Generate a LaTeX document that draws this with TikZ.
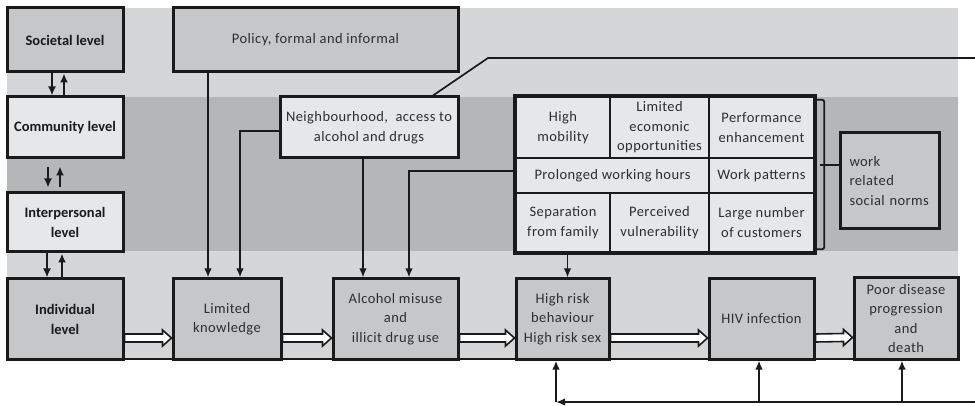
\documentclass[tikz,border=0pt]{standalone}
\usepackage{fontspec}
\setmainfont{Carlito}[LetterSpace=3]
\newfontfamily\lvlfont{Carlito}
\usetikzlibrary{arrows.meta,calc}
\definecolor{bandL}{HTML}{D5D6D8}
\definecolor{bandD}{HTML}{B5B6B8}
\definecolor{boxM}{HTML}{C6C7C9}
\definecolor{boxL}{HTML}{E6E7E8}
\definecolor{ink}{HTML}{1A1A1A}
\definecolor{txt}{HTML}{2E2E2E}
\newcommand\hollowarrow[2]{%
  \draw[harrow] ($(#1.east)+(0,15)$) -- ($(#2.west)+(-9,15)$) -- ($(#2.west)+(-9,11)$)
    -- ($(#2.west)+(0,19)$) -- ($(#2.west)+(-9,27)$) -- ($(#2.west)+(-9,23)$)
    -- ($(#1.east)+(0,23)$) -- cycle;}
\begin{document}
\begin{tikzpicture}[x=1pt,y=-1pt,
  box/.style={draw=ink, line width=3pt, inner sep=0pt, align=center, text=txt,
    font=\fontsize{14.5}{19.5}\selectfont},
  boxm/.style={box, fill=boxM},
  boxl/.style={box, fill=boxL},
  cell/.style={boxl, line width=2.4pt},
  lvl/.style={font=\lvlfont\bfseries\fontsize{14.5}{20}\selectfont, text=ink},
  conn/.style={draw=ink, line width=1.7pt, -{Latex[length=9pt,width=7.5pt]}},
  lvla/.style={draw=ink, line width=2.2pt, -{Latex[length=9pt,width=8pt]}},
  harrow/.style={draw=ink, fill=white, line width=1.6pt, line join=miter},
  plain/.style={draw=ink, line width=1.7pt},
]
\useasboundingbox (0,0) rectangle (975,406);
% bands
\fill[bandL] (7,8) rectangle (958,97);
\fill[bandD] (7,97) rectangle (958,251);
\fill[bandL] (7,251) rectangle (958,359);
\draw[ink, line width=1.6pt] (7,359) -- (958,359);

% level boxes
\node[boxm, lvl, minimum width=116, minimum height=64] (soc) at (65,40) {Societal level};
\node[boxl, lvl, minimum width=116, minimum height=61] (com) at (65,127.5) {Community level};
\node[boxl, lvl, minimum width=116, minimum height=59] (inter) at (65,222.5) {Interpersonal\\level};
\node[boxm, lvl, minimum width=116, minimum height=80] (ind) at (65,319) {Individual\\level};

% top boxes
\node[boxm, minimum width=285, minimum height=64] (pol) at (315.5,40) {Policy, formal and informal};
\node[boxl, minimum width=178, minimum height=61] (nei) at (369,127.5) {Neighbourhood,\ \ access to\\alcohol and drugs};

% grid
\node[cell, minimum width=94, minimum height=61] (c11) at (563,127.5) {High\\mobility};
\node[cell, minimum width=99, minimum height=61] (c12) at (659.5,127.5) {Limited\\ecomonic\\opportunities};
\node[cell, minimum width=105, minimum height=61] (c13) at (761.5,127.5) {Performance\\enhancement};
\node[cell, minimum width=193, minimum height=35] (c2a) at (612.5,175.5) {Prolonged working hours};
\node[cell, minimum width=105, minimum height=35] (c2b) at (761.5,175.5) {Work patterns};
\node[cell, minimum width=94, minimum height=59] (c31) at (563,222.5) {Separation\\from family};
\node[cell, minimum width=99, minimum height=59] (c32) at (659.5,222.5) {Perceived\\vulnerability};
\node[cell, minimum width=105, minimum height=59] (c33) at (761.5,222.5) {Large number\\of customers};
\draw[ink, line width=3pt] (c11.north west) rectangle (c33.south east);

% work norms
\node[boxm, minimum width=99, minimum height=96, text width=80, align=left] (work) at (889.5,181) {work\\related\\social norms};

% bottom row
\node[boxm, minimum width=108, minimum height=80] (know) at (227,319) {Limited\\knowledge};
\node[boxm, minimum width=125, minimum height=80] (alc) at (395.5,319) {Alcohol misuse\\and\\illicit drug use};
\node[boxm, minimum width=93, minimum height=80] (risk) at (562.5,319) {High risk\\behaviour\\High risk sex};
\node[boxm, minimum width=105, minimum height=80] (hiv) at (761.5,319) {HIV infection};
\node[boxm, minimum width=104, minimum height=81] (poor) at (906,318.5) {Poor disease\\progression\\and\\death};

% level arrows
\draw[lvla] ([xshift=-13]soc.south) -- ([xshift=-13]com.north);
\draw[lvla] ([xshift=-1]com.north) -- ([xshift=-1]soc.south);
\draw[lvla, shorten <=8pt, shorten >=4pt] ([xshift=-17]com.south) -- ([xshift=-17]inter.north);
\draw[lvla, shorten <=4pt, shorten >=7pt] ([xshift=-5]inter.north) -- ([xshift=-5]com.south);
\draw[lvla] ([xshift=-18]inter.south) -- ([xshift=-18]ind.north);
\draw[lvla] ([xshift=-3]ind.north) -- ([xshift=-3]inter.south);

% connectors into bottom row
\coordinate (k1) at ([xshift=-19]know.north);
\coordinate (k2) at ([xshift=13]know.north);
\coordinate (a1) at ([xshift=-32.5]alc.north);
\coordinate (a2) at ([xshift=13.5]alc.north);
\coordinate (r1) at ([xshift=5]risk.north);
\draw[conn] (pol.south -| k1) -- (k1);
\draw[conn] ([yshift=-3.5]nei.west) -| (k2);
\draw[conn] (nei.south -| a1) -- (a1);
\draw[conn] ([yshift=4.5]c2a.west) -| (a2);
\draw[conn] (c31.south -| r1) -- (r1);

% diagonal line to right
\coordinate (d1) at (488,58);
\coordinate (d2) at (975,58);
\draw[plain] ([xshift=64]nei.north) -- (d1) -- (d2);

% bracket
\coordinate (bT) at ($(c13.north east)+(-1,4)$);
\coordinate (bB) at ($(c33.south east)+(-1,-4)$);
\draw[ink, line width=1.8pt, rounded corners=2pt] (bT) -- ++(10,0) |- (bB);
\draw[ink, line width=2.2pt] ($(work.west)+(-19,-16)$) -- ($(work.west)+(0,-16)$);

% hollow arrows
\hollowarrow{ind}{know}
\hollowarrow{know}{alc}
\hollowarrow{alc}{risk}
\hollowarrow{risk}{hiv}
\hollowarrow{hiv}{poor}

% feedback
\coordinate (fbR) at (975,402);
\coordinate (r2) at ([xshift=-6.5]risk.south);
\coordinate (h2) at ([xshift=-2.5]hiv.south);
\coordinate (p2) at ([xshift=-4]poor.south);
\coordinate (fbC) at (r2 |- fbR);
\draw[conn, line width=2.2pt] (fbR) -- (fbC);
\draw[conn, line width=2.2pt] (fbC) -- (r2);
\draw[conn] (h2 |- fbR) -- (h2);
\draw[conn] (p2 |- fbR) -- (p2);
\end{tikzpicture}
\end{document}
